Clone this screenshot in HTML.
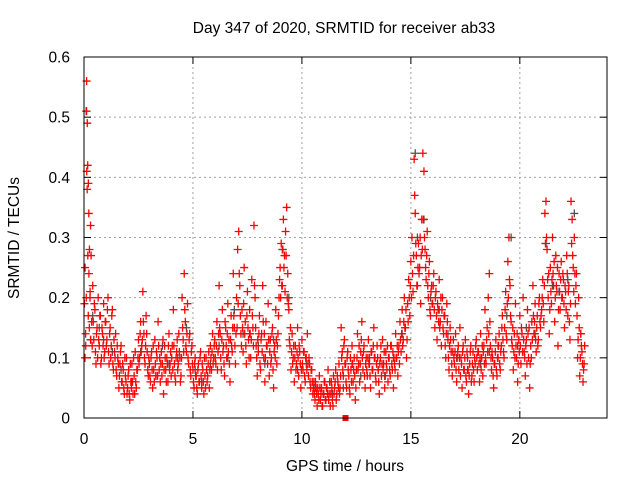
<!DOCTYPE html>
<html><head><meta charset="utf-8"><style>
body{margin:0;background:#fff;}
svg{display:block;font-family:"Liberation Sans",sans-serif;}
</style></head><body>
<svg id="chart" width="640" height="480" viewBox="0 0 640 480">
<text x="344" y="33" font-size="15.5" text-anchor="middle">Day 347 of 2020, SRMTID for receiver ab33</text>
<text transform="translate(19,238) rotate(-90)" font-size="15.5" text-anchor="middle">SRMTID / TECUs</text>
<text x="345" y="471" font-size="15.5" text-anchor="middle">GPS time / hours</text>
<g id="grid"></g><g id="ticks"></g><g id="gray"></g><g id="red"></g>
<rect x="84" y="57" width="523" height="361" fill="none" stroke="#000" stroke-width="1"/>
</svg>
<script>
const xTicks=[0,5,10,15,20];
const yTicks=[0,0.1,0.2,0.3,0.4,0.5,0.6];
const yTickLabels=["0","0.1","0.2","0.3","0.4","0.5","0.6"];
const times=[0.02,0.05,0.08,0.1,0.12,0.15,0.17,0.2,0.22,0.25,0.28,0.3,0.35,0.4,0.45,0.5,0.55,0.6,0.65,0.7,0.75,0.8,0.85,0.9,0.95,
1.0,1.05,1.1,1.15,1.2,1.25,1.3,1.35,1.4,1.45,1.5,1.55,1.6,1.65,1.7,1.75,1.8,1.85,1.9,1.95,
2.0,2.05,2.1,2.15,2.2,2.25,2.3,2.35,2.4,2.45,2.5,2.55,2.6,2.65,2.7,2.75,2.8,2.85,2.9,2.95,
3.0,3.05,3.1,3.15,3.2,3.25,3.3,3.35,3.4,3.45,3.5,3.55,3.6,3.65,3.7,3.75,3.8,3.85,3.9,3.95,
4.0,4.05,4.1,4.15,4.2,4.25,4.3,4.35,4.4,4.45,4.5,4.55,4.6,4.65,4.7,4.75,4.8,4.85,4.9,4.95,
5.0,5.05,5.1,5.15,5.2,5.25,5.3,5.35,5.4,5.45,5.5,5.55,5.6,5.65,5.7,5.75,5.8,5.85,5.9,5.95,
6.0,6.05,6.1,6.15,6.2,6.25,6.3,6.35,6.4,6.45,6.5,6.55,6.6,6.65,6.7,6.75,6.8,6.85,6.9,6.95,
7.0,7.05,7.1,7.15,7.2,7.25,7.3,7.35,7.4,7.45,7.5,7.55,7.6,7.65,7.7,7.75,7.8,7.85,7.9,7.95,
8.0,8.05,8.1,8.15,8.2,8.25,8.3,8.35,8.4,8.45,8.5,8.55,8.6,8.65,8.7,8.75,8.8,8.85,8.9,8.95,
9.0,9.05,9.1,9.15,9.2,9.25,9.3,9.35,9.4,9.45,9.5,9.55,9.6,9.65,9.7,9.75,9.8,9.85,9.9,9.95,
10.0,10.05,10.1,10.15,10.2,10.25,10.3,10.35,10.4,10.45,10.5,10.55,10.6,10.65,10.7,10.75,10.8,10.85,10.9,10.95,
11.0,11.05,11.1,11.15,11.2,11.25,11.3,11.35,11.4,11.45,11.5,11.55,11.6,11.65,11.7,11.75,11.8,11.85,11.9,11.95,
12.0,12.05,12.1,12.15,12.2,12.25,12.3,12.35,12.4,12.45,12.5,12.55,12.6,12.65,12.7,12.75,12.8,12.85,12.9,12.95,
13.0,13.05,13.1,13.15,13.2,13.25,13.3,13.35,13.4,13.45,13.5,13.55,13.6,13.65,13.7,13.75,13.8,13.85,13.9,13.95,
14.0,14.05,14.1,14.15,14.2,14.25,14.3,14.35,14.4,14.45,14.5,14.55,14.6,14.65,14.7,14.75,14.8,14.85,14.9,14.95,
15.0,15.05,15.1,15.15,15.2,15.25,15.3,15.35,15.4,15.45,15.5,15.55,15.6,15.65,15.7,15.75,15.8,15.85,15.9,15.95,
16.0,16.05,16.1,16.15,16.2,16.25,16.3,16.35,16.4,16.45,16.5,16.55,16.6,16.65,16.7,16.75,16.8,16.85,16.9,16.95,
17.0,17.05,17.1,17.15,17.2,17.25,17.3,17.35,17.4,17.45,17.5,17.55,17.6,17.65,17.7,17.75,17.8,17.85,17.9,17.95,
18.0,18.05,18.1,18.15,18.2,18.25,18.3,18.35,18.4,18.45,18.5,18.55,18.6,18.65,18.7,18.75,18.8,18.85,18.9,18.95,
19.0,19.05,19.1,19.15,19.2,19.25,19.3,19.35,19.4,19.45,19.5,19.55,19.6,19.65,19.7,19.75,19.8,19.85,19.9,19.95,
20.0,20.05,20.1,20.15,20.2,20.25,20.3,20.35,20.4,20.45,20.5,20.55,20.6,20.65,20.7,20.75,20.8,20.85,20.9,20.95,
21.0,21.05,21.1,21.15,21.2,21.25,21.3,21.35,21.4,21.45,21.5,21.55,21.6,21.65,21.7,21.75,21.8,21.85,21.9,21.95,
22.0,22.05,22.1,22.15,22.2,22.25,22.3,22.35,22.4,22.45,22.5,22.55,22.6,22.65,22.7,22.75,22.8,22.85,22.9,22.95];
const values=[.19,.25,.12,.51,.56,.49,.42,.39,.34,.28,.21,.32,.16,.22,.13,.18,.09,.15,.2,.12,.17,.1,.14,.19,.11,
.16,.13,.2,.09,.15,.12,.18,.08,.11,.14,.07,.1,.05,.09,.12,.06,.08,.04,.07,.1,
.05,.08,.03,.06,.09,.04,.07,.11,.05,.08,.13,.1,.16,.12,.21,.14,.09,.17,.11,.07,
.09,.06,.11,.05,.08,.13,.07,.1,.16,.08,.06,.11,.09,.04,.12,.08,.1,.06,.14,.09,
.07,.12,.18,.09,.06,.11,.08,.14,.1,.07,.2,.13,.24,.16,.11,.19,.09,.14,.07,.12,
.08,.05,.1,.07,.04,.09,.06,.11,.05,.08,.04,.07,.1,.06,.09,.05,.12,.08,.14,.1,
.13,.09,.16,.11,.22,.14,.08,.18,.12,.07,.15,.1,.19,.13,.06,.17,.11,.24,.15,.09,
.2,.28,.31,.22,.14,.18,.11,.25,.16,.09,.21,.13,.18,.1,.23,.15,.32,.2,.12,.07,
.11,.17,.08,.14,.22,.1,.06,.16,.12,.19,.07,.13,.1,.15,.05,.12,.18,.09,.14,.2,
.25,.29,.22,.33,.27,.31,.35,.24,.18,.12,.08,.14,.1,.06,.12,.09,.15,.07,.11,.05,
.13,.08,.11,.06,.1,.14,.07,.09,.05,.08,.04,.06,.03,.05,.02,.04,.07,.03,.05,.02,
.04,.06,.03,.05,.08,.04,.02,.06,.03,.07,.05,.08,.04,.06,.09,.05,.15,.11,.07,.13,
.09,.05,.11,.07,.04,.08,.12,.06,.1,.03,.08,.14,.09,.06,.11,.16,.08,.12,.05,.1,
.07,.13,.09,.05,.11,.08,.15,.1,.06,.12,.08,.04,.1,.07,.13,.09,.05,.11,.08,.06,
.1,.07,.12,.08,.05,.09,.14,.1,.07,.12,.16,.11,.18,.13,.2,.15,.1,.19,.23,.17,
.26,.3,.21,.43,.34,.27,.22,.29,.25,.19,.33,.44,.41,.28,.23,.31,.2,.26,.17,.22,
.19,.24,.15,.21,.13,.18,.23,.16,.12,.2,.14,.17,.1,.19,.13,.08,.15,.11,.07,.13,
.09,.14,.06,.11,.08,.15,.1,.05,.12,.08,.13,.06,.1,.04,.09,.12,.07,.11,.06,.09,
.13,.08,.11,.06,.14,.1,.07,.12,.18,.09,.15,.2,.24,.12,.08,.1,.05,.09,.13,.07,
.1,.14,.08,.12,.17,.11,.15,.21,.13,.26,.3,.22,.16,.12,.08,.14,.19,.1,.06,.13,
.17,.09,.14,.2,.11,.07,.13,.18,.1,.05,.12,.16,.22,.14,.19,.11,.17,.13,.2,.15,
.18,.23,.16,.34,.36,.28,.2,.14,.25,.19,.3,.22,.16,.27,.21,.12,.24,.18,.26,.2,
.23,.15,.21,.27,.17,.22,.13,.36,.33,.25,.3,.19,.24,.1,.2,.07,.14,.11,.06,.09];
const values2=[.1,.14,.2,.41,.38,.27,.17,.24,.15,.2,.13,.27,.12,.16,.19,.11,.14,.1,.13,.17,.09,.15,.12,.1,.16,
.12,.18,.11,.14,.1,.17,.09,.13,.1,.08,.12,.09,.07,.11,.06,.09,.05,.1,.06,.04,
.07,.04,.09,.05,.06,.1,.04,.06,.08,.1,.09,.14,.11,.13,.16,.1,.12,.14,.08,.1,
.07,.1,.08,.12,.06,.09,.11,.07,.12,.1,.09,.07,.13,.08,.1,.06,.09,.12,.08,.11,
.1,.08,.12,.07,.1,.13,.09,.11,.06,.1,.15,.11,.18,.12,.14,.1,.13,.08,.11,.09,
.06,.09,.07,.05,.08,.06,.1,.07,.09,.06,.1,.05,.08,.07,.11,.08,.1,.11,.09,.12,
.1,.12,.08,.14,.15,.1,.13,.11,.09,.16,.12,.14,.11,.09,.13,.12,.15,.17,.12,.14,
.15,.19,.24,.17,.12,.15,.19,.14,.12,.17,.15,.1,.14,.13,.17,.12,.22,.15,.1,.13,
.14,.09,.13,.11,.16,.14,.1,.12,.09,.13,.11,.09,.14,.08,.11,.1,.13,.12,.17,.23,
.2,.22,.28,.25,.21,.27,.2,.19,.13,.15,.11,.09,.12,.1,.08,.11,.1,.12,.09,.08,
.09,.11,.07,.1,.08,.09,.1,.06,.08,.06,.05,.04,.06,.04,.05,.03,.05,.04,.02,.04,
.06,.03,.05,.04,.03,.06,.04,.05,.02,.04,.06,.03,.07,.05,.04,.07,.1,.08,.12,.09,
.06,.1,.08,.05,.1,.06,.09,.08,.07,.05,.1,.08,.12,.09,.13,.1,.11,.07,.09,.08,
.1,.09,.07,.11,.08,.12,.1,.07,.09,.1,.06,.09,.12,.09,.08,.11,.07,.09,.12,.1,
.08,.12,.09,.11,.1,.08,.1,.12,.11,.09,.13,.14,.12,.16,.15,.18,.13,.16,.2,.22,
.2,.24,.27,.37,.29,.22,.25,.24,.3,.27,.28,.33,.3,.25,.27,.22,.24,.18,.21,.19,
.22,.18,.2,.17,.19,.16,.15,.2,.18,.15,.17,.12,.14,.16,.1,.12,.13,.09,.11,.1,
.11,.08,.1,.12,.1,.07,.09,.11,.08,.1,.07,.11,.08,.07,.11,.06,.09,.08,.1,.12,
.1,.11,.09,.1,.08,.12,.11,.09,.1,.13,.11,.14,.16,.1,.11,.07,.09,.11,.08,.1,
.12,.09,.11,.15,.13,.1,.18,.14,.19,.2,.23,.17,.13,.15,.11,.1,.12,.14,.09,.11,
.12,.15,.11,.13,.1,.12,.09,.14,.15,.09,.1,.13,.17,.16,.13,.15,.12,.19,.16,.17,
.2,.19,.22,.29,.3,.23,.24,.18,.21,.23,.24,.26,.2,.22,.25,.18,.21,.23,.2,.24,
.19,.22,.18,.24,.21,.16,.19,.29,.27,.21,.24,.22,.17,.13,.15,.1,.12,.09,.08,.12];
const grayTimes=[0.12,0.3,0.4,0.7,0.9,1.3,1.7,2.2,2.6,3.0,3.3,3.6,3.9,4.3,4.7,5.1,5.4,5.8,6.2,6.6,6.9,7.3,7.6,8.0,8.3,8.7,9.1,9.4,9.8,10.2,10.6,11.0,11.4,11.9,12.3,12.7,13.1,13.5,13.8,14.2,14.6,15.2,15.3,15.6,15.9,16.3,16.7,17.1,17.6,18.2,18.6,19.0,19.4,19.6,19.9,20.3,20.7,21.2,21.5,21.8,22.2,22.5,22.8];
const grayValues=[.51,.13,.17,.15,.13,.11,.08,.06,.11,.09,.07,.12,.09,.1,.15,.08,.06,.09,.12,.1,.18,.14,.14,.12,.09,.13,.28,.2,.08,.09,.05,.04,.04,.05,.09,.07,.1,.08,.07,.1,.14,.44,.3,.33,.2,.18,.14,.1,.08,.09,.11,.12,.17,.3,.12,.15,.14,.29,.22,.21,.23,.34,.14];
const markerT=[12];
const markerV=[0];

const NS="http://www.w3.org/2000/svg";
const X0=84,X1=607,Y0=418,Y1=57,XMAX=24,YMAX=0.6;
function xs(t){return X0+(X1-X0)*t/XMAX;}
function ys(v){return Y0-(Y0-Y1)*v/YMAX;}
function mk(tag,attrs,parent){const e=document.createElementNS(NS,tag);for(const k in attrs)e.setAttribute(k,attrs[k]);parent.appendChild(e);return e;}
const grid=document.getElementById('grid'),ticks=document.getElementById('ticks');
xTicks.forEach(t=>{
  const x=xs(t);
  if(t>0){const g=mk('line',{x1:x,x2:x,y1:Y1,y2:Y0,stroke:'#a0a0a0','stroke-dasharray':'2,3'},grid);
  
  }
  mk('line',{x1:x,x2:x,y1:Y0,y2:Y0-7,stroke:'#000'},ticks);
  mk('line',{x1:x,x2:x,y1:Y1,y2:Y1+7,stroke:'#000'},ticks);
  const l=mk('text',{x:x,y:444,'font-size':15.5,'text-anchor':'middle'},ticks);
  l.textContent=String(t);
  
  
});
yTicks.forEach((v,i)=>{
  const y=ys(v);
  if(v>0&&v<0.6){const g=mk('line',{x1:X0,x2:X1,y1:y,y2:y,stroke:'#a0a0a0','stroke-dasharray':'2,3'},grid);
  
  }
  mk('line',{x1:X0,x2:X0+7,y1:y,y2:y,stroke:'#000'},ticks);
  mk('line',{x1:X1,x2:X1-7,y1:y,y2:y,stroke:'#000'},ticks);
  const l=mk('text',{x:70,y:y+5.5,'font-size':15.5,'text-anchor':'end'},ticks);
  l.textContent=yTickLabels[i];
  
  
});
function plus(parent,t,v,color,name){
  const x=xs(t),y=ys(v);
  const p=mk('path',{d:`M${x-4},${y}H${x+4}M${x},${y-4}V${y+4}`,stroke:color,'stroke-width':1.3,fill:'none'},parent);
  
  
}
const gg=document.getElementById('gray'),rg=document.getElementById('red');
grayTimes.forEach((t,i)=>plus(gg,t,grayValues[i],'#505050','gray-point'));
times.forEach((t,i)=>plus(rg,t,values[i],'#ff0000','srmtid-point'));
times.forEach((t,i)=>plus(rg,t+0.025,values2[i],'#ff0000','srmtid-point-2'));
markerT.forEach((t,i)=>{
  const r=mk('rect',{x:xs(t)-3,y:ys(markerV[i])-3,width:6,height:6,fill:'#ff0000'},rg);
  
  
});
</script>
</body></html>
